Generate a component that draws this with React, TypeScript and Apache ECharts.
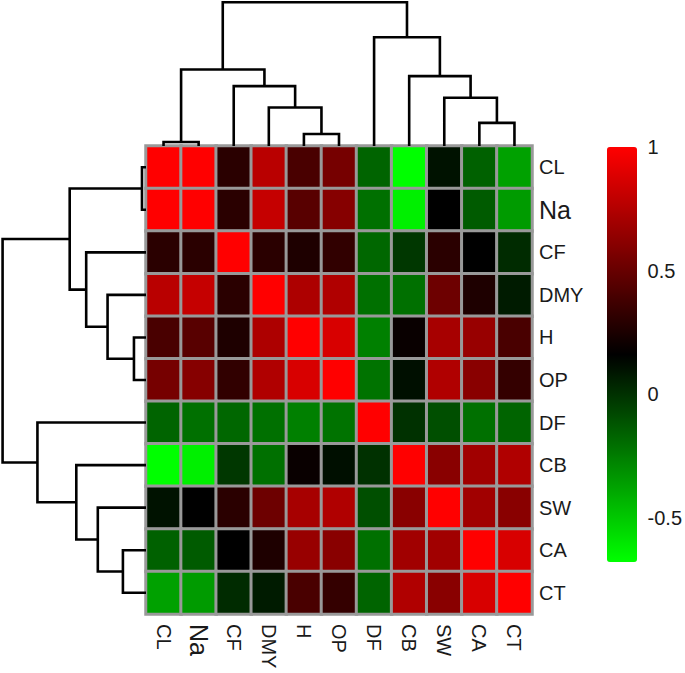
import React, { useEffect, useRef } from "react";
import * as echarts from "echarts";

const labels = ["CL", "Na", "CF", "DMY", "H", "OP", "DF", "CB", "SW", "CA", "CT"];

const rowCL = [1.0, 1.0, 0.3, 0.77, 0.4, 0.55, -0.17, -0.68, 0.1, -0.16, -0.37];
const rowNa = [1.0, 1.0, 0.3, 0.81, 0.45, 0.6, -0.21, -0.63, 0.16, -0.14, -0.35];
const rowCF = [0.3, 0.3, 1.0, 0.3, 0.26, 0.32, -0.18, -0.02, 0.3, 0.16, 0.02];
const rowDMY = [0.77, 0.81, 0.3, 1.0, 0.73, 0.74, -0.21, -0.21, 0.52, 0.26, 0.07];
const rowH = [0.4, 0.45, 0.26, 0.73, 1.0, 0.87, -0.26, 0.19, 0.71, 0.66, 0.4];
const rowOP = [0.55, 0.6, 0.32, 0.74, 0.87, 1.0, -0.22, 0.11, 0.74, 0.61, 0.33];
const rowDF = [-0.17, -0.21, -0.18, -0.21, -0.26, -0.22, 1.0, 0.0, -0.1, -0.21, -0.17];
const rowCB = [-0.68, -0.63, -0.02, -0.21, 0.19, 0.11, 0.0, 1.0, 0.61, 0.69, 0.74];
const rowSW = [0.1, 0.16, 0.3, 0.52, 0.71, 0.74, -0.1, 0.61, 1.0, 0.69, 0.61];
const rowCA = [-0.16, -0.14, 0.16, 0.26, 0.66, 0.61, -0.21, 0.69, 0.69, 1.0, 0.87];
const rowCT = [-0.37, -0.35, 0.02, 0.07, 0.4, 0.33, -0.17, 0.74, 0.61, 0.87, 1.0];
const matrix = [rowCL, rowNa, rowCF, rowDMY, rowH, rowOP, rowDF, rowCB, rowSW, rowCA, rowCT];

// hierarchical clustering merges: [childA, childB, height]; "m<k>" refers to merge k
const merges: [string, string, number][] = [
  ["CL", "Na", 0.028],
  ["H", "OP", 0.084],
  ["DMY", "m1", 0.268],
  ["CF", "m2", 0.417],
  ["m0", "m3", 0.532],
  ["CA", "CT", 0.161],
  ["SW", "m5", 0.336],
  ["CB", "m6", 0.486],
  ["DF", "m7", 0.757],
  ["m4", "m8", 1.0],
];

const colorbarTicks = [-0.5, 0, 0.5, 1];
const scaleMin = -0.68;
const scaleMax = 1;

function buildLinks() {
  const pos: Record<string, number> = {};
  const hgt: Record<string, number> = {};
  labels.forEach((l, i) => {
    pos[l] = i + 0.5;
    hgt[l] = 0;
  });
  const out: number[][] = [];
  merges.forEach(([a, b, h], k) => {
    out.push([pos[a], hgt[a], pos[b], hgt[b], h]);
    pos["m" + k] = (pos[a] + pos[b]) / 2;
    hgt["m" + k] = h;
  });
  return out;
}

export default function App() {
  const ref = useRef<HTMLDivElement>(null);
  useEffect(() => {
    if (!ref.current) return;
    const chart = echarts.init(ref.current, null, { renderer: "svg" });
    const heat: number[][] = [];
    matrix.forEach((row, r) => row.forEach((v, c) => heat.push([c, r, v])));
    const links = buildLinks();
    const font = "'Liberation Sans', Arial, sans-serif";
    const labelFmt = (v: string) => (v === "Na" ? "{big|Na}" : v);
    const rich = { big: { fontSize: 25, fontFamily: font, color: "#1a1a1a" } };
    const dendroStyle = { stroke: "#000", lineWidth: 2.6, fill: "none" };

    chart.setOption({
      animation: false,
      backgroundColor: "#fff",
      textStyle: { fontFamily: font },
      grid: [
        { left: 146, top: 146, width: 386, height: 468 },
        { left: 607, top: 147, width: 30, height: 415 },
        { left: 146, top: 0, width: 386, height: 146 },
        { left: 0, top: 146, width: 146, height: 468 },
      ],
      xAxis: [
        {
          type: "category",
          gridIndex: 0,
          data: labels,
          position: "bottom",
          axisLine: { show: false },
          axisTick: { show: false },
          splitLine: { show: false },
          axisLabel: {
            rotate: -90,
            margin: 10,
            fontSize: 20,
            color: "#1a1a1a",
            fontFamily: font,
            formatter: labelFmt,
            rich,
          },
        },
        { type: "value", gridIndex: 1, show: false },
        { type: "value", gridIndex: 2, min: 0, max: 11, show: false },
        { type: "value", gridIndex: 3, min: 0, max: 1.018, inverse: true, show: false },
      ],
      yAxis: [
        {
          type: "category",
          gridIndex: 0,
          data: labels,
          inverse: true,
          position: "right",
          axisLine: { show: false },
          axisTick: { show: false },
          splitLine: { show: false },
          axisLabel: {
            margin: 7,
            fontSize: 20,
            color: "#1a1a1a",
            fontFamily: font,
            formatter: labelFmt,
            rich,
          },
        },
        {
          type: "value",
          gridIndex: 1,
          min: scaleMin,
          max: scaleMax,
          position: "right",
          axisLine: { show: false },
          axisTick: { show: false },
          splitLine: { show: false },
          axisLabel: {
            customValues: colorbarTicks,
            margin: 11,
            fontSize: 20,
            color: "#1a1a1a",
            fontFamily: font,
          },
        },
        { type: "value", gridIndex: 2, min: 0, max: 1.016, show: false },
        { type: "value", gridIndex: 3, min: 0, max: 11, inverse: true, show: false },
      ],
      visualMap: {
        type: "continuous",
        min: scaleMin,
        max: scaleMax,
        seriesIndex: 0,
        calculable: false,
        left: 607,
        top: 147,
        padding: 0,
        itemWidth: 30,
        itemHeight: 415,
        text: null,
        inRange: { color: ["#00ff00", "#000000", "#ff0000"] },
      },
      series: [
        {
          type: "heatmap",
          xAxisIndex: 0,
          yAxisIndex: 0,
          data: heat,
          itemStyle: { borderColor: "#999999", borderWidth: 3 },
          emphasis: { disabled: true },
        },
        {
          type: "custom",
          xAxisIndex: 2,
          yAxisIndex: 2,
          data: links,
          clip: false,
          renderItem: (_p: any, api: any) => {
            const xa = api.value(0), ha = api.value(1), xb = api.value(2), hb = api.value(3), h = api.value(4);
            return {
              type: "polyline",
              shape: {
                points: [api.coord([xa, ha]), api.coord([xa, h]), api.coord([xb, h]), api.coord([xb, hb])],
              },
              style: dendroStyle,
            };
          },
        },
        {
          type: "custom",
          xAxisIndex: 3,
          yAxisIndex: 3,
          data: links,
          clip: false,
          renderItem: (_p: any, api: any) => {
            const xa = api.value(0), ha = api.value(1), xb = api.value(2), hb = api.value(3), h = api.value(4);
            return {
              type: "polyline",
              shape: {
                points: [api.coord([ha, xa]), api.coord([h, xa]), api.coord([h, xb]), api.coord([hb, xb])],
              },
              style: dendroStyle,
            };
          },
        },
      ],
    });
    return () => chart.dispose();
  }, []);
  return (
    <div
      ref={ref}
      style={{ position: "fixed", left: 0, top: 0, width: 685, height: 673, background: "#fff" }}
    />
  );
}
